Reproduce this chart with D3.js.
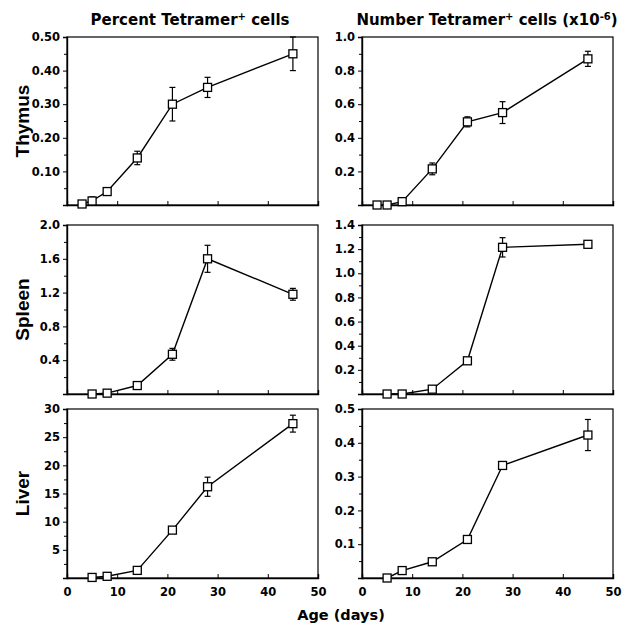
<!DOCTYPE html>
<html>
<head>
<meta charset="utf-8">
<script src="https://cdn.jsdelivr.net/npm/d3@7.9.0/dist/d3.min.js"></script>
<style>
  body { margin: 0; background: #fff; }
  text { font-family: "DejaVu Sans", sans-serif; font-weight: bold; fill: #000; }
</style>
</head>
<body>
<svg id="chart" width="625" height="628"></svg>
<script>
// ages (days)
const thymusAges = [3, 5, 8, 14, 21, 28, 45];
const otherAges = [5, 8, 14, 21, 28, 45];

// percent / number of tetramer+ cells
const thymusPct = [0.003, 0.012, 0.04, 0.14, 0.30, 0.35, 0.45];
const thymusPctErr = [0, 0.012, 0, 0.02, 0.05, 0.03, 0.05];
const thymusNum = [0, 0, 0.02, 0.215, 0.495, 0.55, 0.87];
const thymusNumErr = [0, 0, 0, 0.035, 0.03, 0.065, 0.045];

const spleenPct = [0, 0.01, 0.10, 0.47, 1.60, 1.18];
const spleenPctErr = [0, 0, 0, 0.07, 0.16, 0.07];
const spleenNum = [0, 0, 0.04, 0.275, 1.215, 1.24];
const spleenNumErr = [0, 0, 0.01, 0, 0.08, 0.02];

const liverPct = [0.1, 0.3, 1.35, 8.5, 16.2, 27.4];
const liverPctErr = [0, 0, 0, 0, 1.7, 1.5];
const liverNum = [0, 0.022, 0.048, 0.114, 0.333, 0.423];
const liverNumErr = [0, 0, 0, 0, 0, 0.046];

const rowLabels = ["Thymus", "Spleen", "Liver"];
const xTicks = [0, 10, 20, 30, 40, 50];

// y axis setup per panel: max, labelled ticks, format
const panels = [
  { row: 0, col: 0, ages: thymusAges, vals: thymusPct, errs: thymusPctErr, max: 0.5, ticks: [0.1, 0.2, 0.3, 0.4, 0.5], step: 0.05, fmt: ".2f" },
  { row: 0, col: 1, ages: thymusAges, vals: thymusNum, errs: thymusNumErr, max: 1.0, ticks: [0.2, 0.4, 0.6, 0.8, 1.0], step: 0.1, fmt: ".1f" },
  { row: 1, col: 0, ages: otherAges, vals: spleenPct, errs: spleenPctErr, max: 2.0, ticks: [0.4, 0.8, 1.2, 1.6, 2.0], step: 0.2, fmt: ".1f" },
  { row: 1, col: 1, ages: otherAges, vals: spleenNum, errs: spleenNumErr, max: 1.4, ticks: [0.2, 0.4, 0.6, 0.8, 1.0, 1.2, 1.4], step: 0.1, fmt: ".1f" },
  { row: 2, col: 0, ages: otherAges, vals: liverPct, errs: liverPctErr, max: 30, ticks: [5, 10, 15, 20, 25, 30], step: 2.5, fmt: "d" },
  { row: 2, col: 1, ages: otherAges, vals: liverNum, errs: liverNumErr, max: 0.5, ticks: [0.1, 0.2, 0.3, 0.4, 0.5], step: 0.05, fmt: ".1f" }
];

const colX = [[67, 318], [362, 613]];
const rowY = [[37, 205], [225, 394], [409, 578]];

const svg = d3.select("#chart");

panels.forEach(p => {
  const [x0, x1] = colX[p.col];
  const [y0, y1] = rowY[p.row];
  const x = d3.scaleLinear().domain([0, 50]).range([x0, x1]);
  const y = d3.scaleLinear().domain([0, p.max]).range([y1, y0]);
  const g = svg.append("g");

  // frame
  g.append("rect")
    .attr("x", x0).attr("y", y0)
    .attr("width", x1 - x0).attr("height", y1 - y0)
    .attr("fill", "none").attr("stroke", "#000").attr("stroke-width", 1.2);

  // y axis, labels only for the ticks listed
  const yAxis = d3.axisLeft(y)
    .tickValues(p.ticks)
    .tickFormat(d3.format(p.fmt))
    .tickSize(4)
    .tickPadding(3);
  const ya = g.append("g").attr("transform", `translate(${x0},0)`).call(yAxis);
  ya.select(".domain").attr("stroke-width", 1.4);
  ya.selectAll("text").style("font-size", "11.5px").style("font-family", "DejaVu Sans").style("font-weight", "bold");

  // minor ticks at the half steps
  const minor = d3.range(p.step, p.max, p.step * 2);
  g.append("g").attr("transform", `translate(${x0},0)`)
    .call(d3.axisLeft(y).tickValues(minor).tickSize(3).tickFormat(""))
    .select(".domain").remove();

  // x axis with ticks pointing in
  const xAxis = d3.axisBottom(x).tickValues(xTicks).tickSize(-4).tickPadding(10);
  const xa = g.append("g").attr("transform", `translate(0,${y1})`).call(xAxis);
  xa.select(".domain").attr("stroke-width", 1.4);
  if (p.row === 2) {
    xa.selectAll("text").style("font-size", "11.5px").style("font-family", "DejaVu Sans").style("font-weight", "bold");
  } else {
    xa.selectAll("text").remove();
  }

  const pts = p.ages.map((a, i) => ({ a, v: p.vals[i], e: p.errs[i] }));

  // connecting line
  g.append("path")
    .datum(pts)
    .attr("fill", "none").attr("stroke", "#000").attr("stroke-width", 1.4)
    .attr("d", d3.line().x(d => x(d.a)).y(d => y(d.v)));

  // error bars
  const eb = g.selectAll(".err").data(pts.filter(d => d.e > 0)).enter().append("g");
  eb.append("line")
    .attr("x1", d => x(d.a)).attr("x2", d => x(d.a))
    .attr("y1", d => y(d.v - d.e)).attr("y2", d => y(d.v + d.e))
    .attr("stroke", "#000").attr("stroke-width", 1.2);
  [-1, 1].forEach(s => {
    eb.append("line")
      .attr("x1", d => x(d.a) - 3).attr("x2", d => x(d.a) + 3)
      .attr("y1", d => y(d.v + s * d.e)).attr("y2", d => y(d.v + s * d.e))
      .attr("stroke", "#000").attr("stroke-width", 1.2);
  });

  // open squares
  g.selectAll(".pt").data(pts).enter().append("rect")
    .attr("x", d => x(d.a) - 4).attr("y", d => y(d.v) - 4)
    .attr("width", 8).attr("height", 8)
    .attr("fill", "#fff").attr("stroke", "#000").attr("stroke-width", 1.3);
});

// row labels
rowLabels.forEach((label, i) => {
  const cy = (rowY[i][0] + rowY[i][1]) / 2;
  svg.append("text")
    .attr("transform", `translate(29,${cy}) rotate(-90)`)
    .attr("text-anchor", "middle")
    .style("font-family", "Liberation Sans, Arial, sans-serif")
    .style("font-size", "19px")
    .text(label);
});

// column titles
const t1 = svg.append("text").attr("x", 190).attr("y", 25).attr("text-anchor", "middle").style("font-size", "15px");
t1.append("tspan").text("Percent Tetramer");
t1.append("tspan").attr("dy", -5).style("font-size", "10px").text("+");
t1.append("tspan").attr("dy", 5).text(" cells");

const t2 = svg.append("text").attr("x", 487).attr("y", 25).attr("text-anchor", "middle").style("font-size", "15px");
t2.append("tspan").text("Number Tetramer");
t2.append("tspan").attr("dy", -5).style("font-size", "10px").text("+");
t2.append("tspan").attr("dy", 5).text(" cells (x10");
t2.append("tspan").attr("dy", -5).style("font-size", "10px").text("-6");
t2.append("tspan").attr("dy", 5).text(")");

// x axis label
svg.append("text").attr("x", 341).attr("y", 620).attr("text-anchor", "middle")
  .style("font-size", "14.5px").text("Age (days)");
</script>
</body>
</html>
